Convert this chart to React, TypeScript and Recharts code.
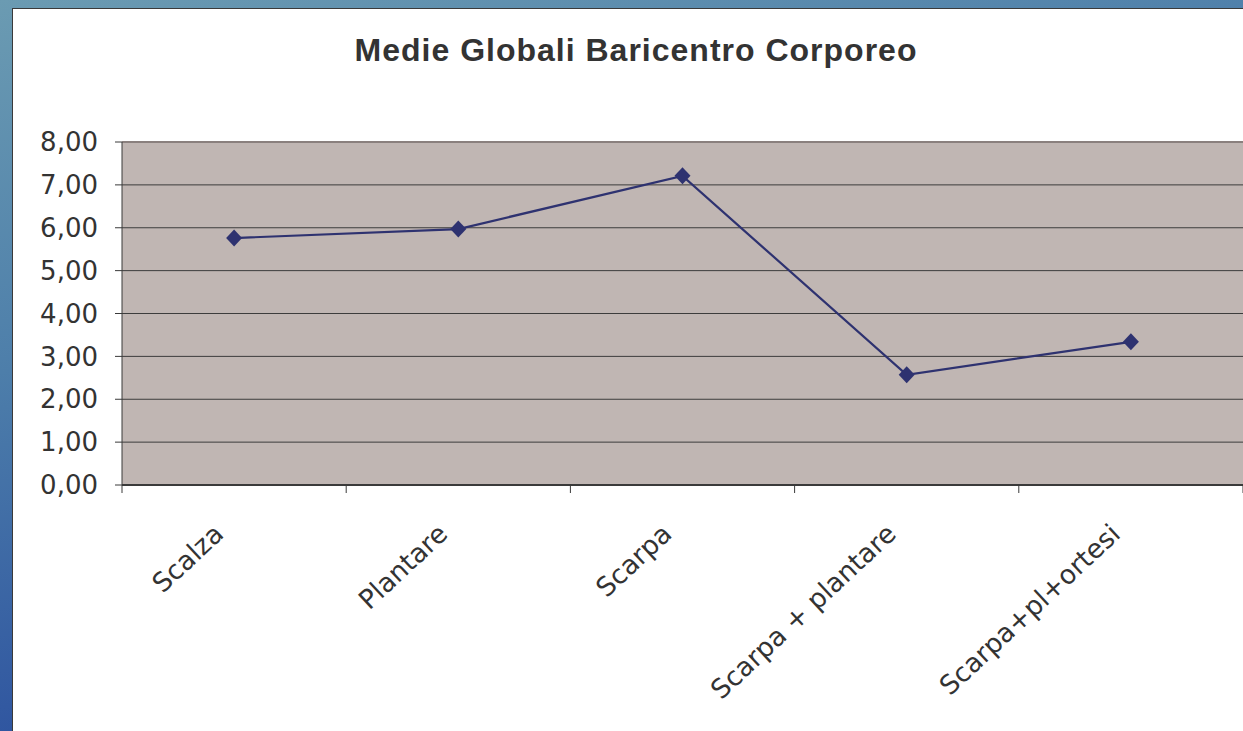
import React from "react";
import {
  LineChart,
  Line,
  XAxis,
  YAxis,
  CartesianGrid,
  ReferenceLine,
} from "recharts";

// Medie globali baricentro corporeo, per condizione
const CATEGORIES = [
  "Scalza",
  "Plantare",
  "Scarpa",
  "Scarpa + plantare",
  "Scarpa+pl+ortesi",
];
const VALUES = [5.76, 5.97, 7.21, 2.57, 3.34];
const Y_TICKS = [0, 1, 2, 3, 4, 5, 6, 7, 8];
// category slots: boundaries on whole numbers, labels on the halves
const X_TICKS = [0, 0.5, 1, 1.5, 2, 2.5, 3, 3.5, 4, 4.5, 5];

const data = CATEGORIES.map((name, i) => ({ name, pos: i + 0.5, value: VALUES[i] }));

const TEXT = "#333333";
const LINE = "#2E3270";
const AXIS = "#3a3a3a";
const FONT = "'DejaVu Sans', 'Liberation Sans', sans-serif";

const fmt = (v: number) => v.toFixed(2).replace(".", ",");

// boundary tick mark or rotated category label
function XTick({ x, y, payload }: any) {
  const v = payload.value;
  if (Number.isInteger(v)) {
    return <line x1={x} y1={y} x2={x} y2={y + 8} stroke={AXIS} />;
  }
  return (
    <text
      transform={`translate(${x - 9},${y + 51}) rotate(-43)`}
      textAnchor="end"
      fontSize={26.5}
      fontFamily={FONT}
      fill={TEXT}
    >
      {CATEGORIES[Math.floor(v)]}
    </text>
  );
}

function Diamond({ cx, cy }: any) {
  if (cx == null || cy == null) return null;
  return (
    <polygon
      points={`${cx},${cy - 8.5} ${cx + 8},${cy} ${cx},${cy + 8.5} ${cx - 8},${cy}`}
      fill={LINE}
    />
  );
}

export default function App() {
  return (
    <div
      style={{
        position: "absolute",
        left: 0,
        top: 0,
        width: 1243,
        height: 731,
        overflow: "hidden",
        background:
          "linear-gradient(165deg, #6b9bb2 0%, #4d7eaa 35%, #2f55a0 70%, #2a3f86 100%)",
      }}
    >
      <div
        style={{
          position: "absolute",
          left: 12,
          top: 8,
          right: 0,
          bottom: 0,
          background: "#ffffff",
          borderLeft: "1px solid #3a3a3a",
          borderTop: "1px solid #3a3a3a",
        }}
      />
      <svg
        width={1243}
        height={100}
        style={{ position: "absolute", left: 0, top: 0 }}
      >
        <text
          x={636}
          y={61}
          textAnchor="middle"
          fontSize={32}
          fontWeight="bold"
          letterSpacing={1}
          fontFamily="'Liberation Sans', Arial, sans-serif"
          fill={TEXT}
        >
          Medie Globali Baricentro Corporeo
        </text>
      </svg>
      <div style={{ position: "absolute", left: 0, top: 0 }}>
        <LineChart
          width={1243}
          height={731}
          data={data}
          margin={{ top: 142, right: 0, bottom: 6, left: 12 }}
        >
          <CartesianGrid
            fill="#C0B6B3"
            fillOpacity={1}
            vertical={false}
            stroke="#3c3c3c"
            strokeDasharray=""
          />
          <ReferenceLine y={8} stroke="#8a807e" strokeWidth={2} />
          <XAxis
            dataKey="pos"
            type="number"
            domain={[0, CATEGORIES.length]}
            ticks={X_TICKS}
            interval={0}
            allowDataOverflow
            height={240}
            axisLine={{ stroke: AXIS, strokeWidth: 2 }}
            tickLine={false}
            tickSize={0}
            tickMargin={0}
            tick={<XTick />}
          />
          <YAxis
            domain={[0, 8]}
            ticks={Y_TICKS}
            width={110}
            axisLine={{ stroke: AXIS }}
            tickLine={{ stroke: AXIS }}
            tickSize={7}
            tickMargin={17}
            tickFormatter={fmt}
            tick={{ fill: TEXT, fontSize: 26, fontFamily: FONT }}
          />
          <Line
            type="linear"
            dataKey="value"
            stroke={LINE}
            strokeWidth={2.2}
            dot={<Diamond />}
            activeDot={false}
            isAnimationActive={false}
          />
        </LineChart>
      </div>
    </div>
  );
}
